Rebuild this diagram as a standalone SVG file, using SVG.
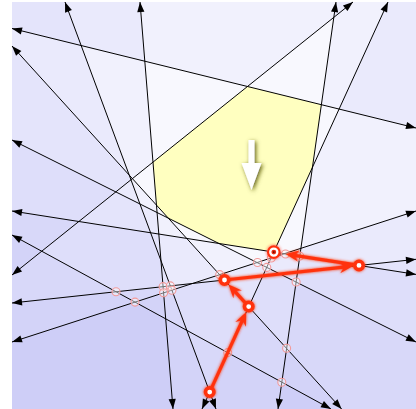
<svg xmlns="http://www.w3.org/2000/svg" width="416" height="409" viewBox="0 0 416 409">
<style>
.hp{fill:#6c78f2;fill-opacity:0.05;stroke:none}
.ln line{stroke:#000;stroke-width:1;marker-start:url(#ah);marker-end:url(#ah)}
.cand{fill:#ffffff;fill-opacity:0.45;stroke:#f29a9a;stroke-width:1.1}
.step{stroke:#ff3311;stroke-width:3.2;fill:none;marker-end:url(#rh)}
.pn{fill:#ffffff;stroke:#ff3311;stroke-width:3.6}
</style>
<defs>
<marker id="ah" viewBox="-11 -5 12 10" refX="0" refY="0" markerWidth="12" markerHeight="10" markerUnits="userSpaceOnUse" orient="auto-start-reverse">
<path d="M0,0 L-10,-3.6 L-10,3.6 Z" fill="#000"/>
</marker>
<marker id="rh" viewBox="-15 -7 16 14" refX="-7" refY="0" markerWidth="16" markerHeight="14" markerUnits="userSpaceOnUse" orient="auto">
<path d="M0,0 L-13.5,-5.8 L-9,0 L-13.5,5.8 Z" fill="#ff3311"/>
</marker>
<filter id="glow" filterUnits="userSpaceOnUse" x="0" y="0" width="416" height="409">
<feGaussianBlur in="SourceGraphic" stdDeviation="1.7" result="b"/>
<feMerge><feMergeNode in="b"/><feMergeNode in="SourceGraphic"/></feMerge>
</filter>
<filter id="shadow" filterUnits="userSpaceOnUse" x="220" y="120" width="70" height="90">
<feDropShadow dx="1.5" dy="1.5" stdDeviation="2" flood-color="#5e5e10" flood-opacity="1"/>
</filter>
<clipPath id="box"><rect x="12" y="2" width="404" height="407"/></clipPath>
</defs>
<rect width="416" height="409" fill="#ffffff"/>
<g id="shading" clip-path="url(#box)">
<polygon class="hp" points="12,28.5 416,128 416,2 12,2"/>
<polygon class="hp" points="65,2 216,409 12,409 12,2"/>
<polygon class="hp" points="140,2 173,409 12,409 12,2"/>
<polygon class="hp" points="12,46 341.6,409 12,409"/>
<polygon class="hp" points="12,140 416,342 416,409 12,409"/>
<polygon class="hp" points="12,211 416,274.4 416,409 12,409"/>
<polygon class="hp" points="12,235 331,409 12,409"/>
<polygon class="hp" points="12,275 353,2 12,2"/>
<polygon class="hp" points="388,2 202,409 416,409 416,2"/>
<polygon class="hp" points="336,2 278,409 416,409 416,2"/>
<polygon class="hp" points="12,342 416,211 416,409 12,409"/>
<polygon class="hp" points="12,303 416,259.3 416,409 12,409"/>
</g>
<g id="feasible">
<polygon points="153,162.2 247.6,86.5 321.4,104.7 312.4,167.3 273.8,252.1 218.9,243.5 168.4,218.2 156.5,205.1" fill="#ffffc0"/>
</g>
<g id="constraints" class="ln">
<line x1="12" y1="28.5" x2="416" y2="128"/>
<line x1="65" y1="2" x2="216" y2="409"/>
<line x1="140" y1="2" x2="173" y2="409"/>
<line x1="12" y1="46" x2="341.6" y2="409"/>
<line x1="12" y1="140" x2="416" y2="342"/>
<line x1="12" y1="211" x2="416" y2="274.4"/>
<line x1="12" y1="235" x2="331" y2="409"/>
<line x1="12" y1="275" x2="353" y2="2"/>
<line x1="388" y1="2" x2="202" y2="409"/>
<line x1="336" y1="2" x2="278" y2="409"/>
<line x1="12" y1="342" x2="416" y2="211"/>
<line x1="12" y1="303" x2="416" y2="259.3"/>
</g>
<g id="candidates">
<circle class="cand" cx="116" cy="291.7" r="4"/>
<circle class="cand" cx="135" cy="302.1" r="4"/>
<circle class="cand" cx="163.1" cy="286.6" r="4"/>
<circle class="cand" cx="170.3" cy="285.9" r="4"/>
<circle class="cand" cx="163.6" cy="292.8" r="4"/>
<circle class="cand" cx="171.9" cy="290.2" r="4"/>
<circle class="cand" cx="219.7" cy="274.6" r="4"/>
<circle class="cand" cx="257.5" cy="262.5" r="4"/>
<circle class="cand" cx="266.8" cy="267.4" r="4"/>
<circle class="cand" cx="271.3" cy="258" r="4"/>
<circle class="cand" cx="285.5" cy="254" r="4"/>
<circle class="cand" cx="299.8" cy="256.1" r="4"/>
<circle class="cand" cx="296.1" cy="282" r="4"/>
<circle class="cand" cx="227.7" cy="352.6" r="4"/>
<circle class="cand" cx="286.6" cy="348.3" r="4"/>
<circle class="cand" cx="281.8" cy="382.2" r="4"/>
</g>
<g id="objective" filter="url(#shadow)">
<path d="M248.5,140 L254.5,140 L254.5,163 L261.5,163 L251.5,190 L241.5,163 L248.5,163 Z" fill="#ffffff"/>
</g>
<g id="path-steps" filter="url(#glow)">
<line class="step" x1="209.7" y1="392.1" x2="243.3" y2="318.4"/>
<line class="step" x1="248.7" y1="306.6" x2="233.25" y2="289.6"/>
<line class="step" x1="224.5" y1="280" x2="346.1" y2="266.85"/>
<line class="step" x1="359" y1="265.45" x2="292.6" y2="255.1"/>
</g>
<g id="v0" filter="url(#glow)"><circle class="pn" cx="209.7" cy="392.1" r="4.2"/></g>
<g id="v1" filter="url(#glow)"><circle class="pn" cx="248.7" cy="306.6" r="4.2"/></g>
<g id="v2" filter="url(#glow)"><circle class="pn" cx="224.5" cy="280" r="4.2"/></g>
<g id="v3" filter="url(#glow)"><circle class="pn" cx="359" cy="265.45" r="4.2"/></g>
<g id="optimum" filter="url(#glow)">
<circle cx="273.8" cy="252.1" r="5.8" fill="#ffffff" stroke="#ff3311" stroke-width="2.2"/>
<circle cx="273.8" cy="252.1" r="2.4" fill="#e82a10"/>
<circle cx="273.8" cy="252.1" r="0.9" fill="#5a0a00"/>
</g>
</svg>
